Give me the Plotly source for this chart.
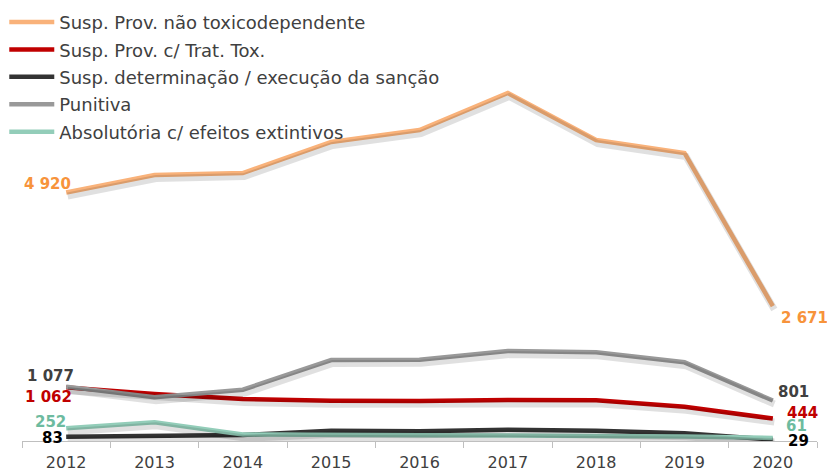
import plotly.graph_objects as go

years = ["2012", "2013", "2014", "2015", "2016", "2017", "2018", "2019", "2020"]

nao_toxico = [4920, 5267, 5307, 5921, 6158, 6891, 5960, 5703, 2671]
trat_tox = [1062, 931, 832, 798, 792, 812, 806, 679, 444]
determinacao = [83, 100, 120, 204, 195, 224, 205, 152, 29]
punitiva = [1077, 865, 1016, 1604, 1610, 1782, 1756, 1558, 801]
absolutoria = [252, 370, 130, 110, 112, 110, 108, 90, 61]

names = [
    "Susp. Prov. não toxicodependente",
    "Susp. Prov. c/ Trat. Tox.",
    "Susp. determinação / execução da sanção",
    "Punitiva",
    "Absolutória c/ efeitos extintivos",
]
series = [nao_toxico, trat_tox, determinacao, punitiva, absolutoria]
line_colors = ["#F9B27A", "#C00000", "#333333", "#999999", "#93CDB9"]
label_colors = ["#F7933B", "#C00000", "#000000", "#404040", "#6DBB9F"]

FONT = "DejaVu Sans"

fig = go.Figure()

# soft shadows (drawn on a slightly shifted overlay axis)
for vals in series:
    fig.add_trace(go.Scatter(
        x=years, y=vals, mode="lines",
        line=dict(color="rgba(0,0,0,0.12)", width=7),
        xaxis="x2", yaxis="y2", showlegend=False, hoverinfo="skip",
    ))

for i, (name, vals) in enumerate(zip(names, series)):
    fig.add_trace(go.Scatter(
        x=years, y=vals, mode="lines", name=name,
        legendgroup=f"g{i}",
        line=dict(color=line_colors[i], width=4.5),
    ))

# data labels: first and last points
left_offsets = [(-18.5, 8.5), (-17.5, -9.5), (-13.5, -1), (-16, 10.5), (-16, 6)]
right_offsets = [(32, -12), (30, 6), (26, -1), (21, 9), (24, 12)]
last = len(years) - 1
for i, vals in enumerate(series):
    for idx, offs in ((0, left_offsets[i]), (last, right_offsets[i])):
        v = vals[idx]
        txt = f"{v:,}".replace(",", " ")
        fig.add_annotation(
            x=idx, y=v, xref="x", yref="y", text=f"<b>{txt}</b>",
            showarrow=False, xshift=offs[0], yshift=offs[1],
            font=dict(family=FONT, size=15, color=label_colors[i]),
        )

W, H = 827, 473
L, R, B, T = 22, 10, 32, 37
ymax = 8000
d = 3.5 * ymax / (H - B - T)  # px shift for shadow
dx = 1.5 * 9 / (W - L - R)

fig.update_layout(
    width=W, height=H,
    margin=dict(l=L, r=R, t=T, b=B, autoexpand=False),
    paper_bgcolor="white", plot_bgcolor="white",
    showlegend=True,
    legend=dict(
        x=-0.0223, y=1.082, xanchor="left", yanchor="top",
        font=dict(family=FONT, size=18, color="#404040"),
        bgcolor="rgba(0,0,0,0)", itemwidth=45, tracegroupgap=1,
        traceorder="grouped",
    ),
    xaxis=dict(
        type="category", range=[-0.5, 8.5], showgrid=False,
        showline=True, linecolor="#BFBFBF", linewidth=1,
        ticks="outside", tickson="boundaries", ticklen=6, tickcolor="#BFBFBF",
        tickfont=dict(family=FONT, size=16, color="#404040"),
        ticklabelstandoff=7,
    ),
    yaxis=dict(range=[0, ymax], visible=False, showgrid=False),
    xaxis2=dict(type="category", range=[-0.5 - dx, 8.5 - dx], overlaying="x",
                visible=False),
    yaxis2=dict(range=[d, ymax + d], overlaying="y", visible=False),
)

fig.write_html("out.html", config={"displayModeBar": False},
               post_script="document.body.style.margin='0';")
